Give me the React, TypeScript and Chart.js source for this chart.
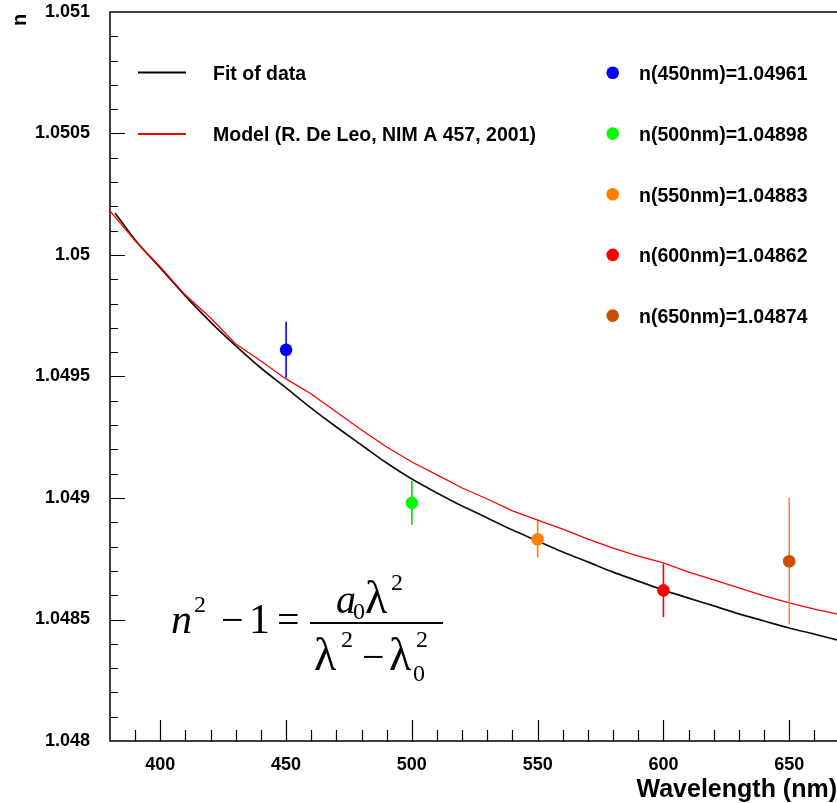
import { useEffect, useRef } from "react";
import { Chart, registerables } from "chart.js";

Chart.register(...registerables);

// ---- data ----
const fitWavelength = [382, 390, 400, 410, 420, 430, 440, 450, 460, 470, 480, 490, 500, 510, 520, 530, 540, 550, 560, 570, 580, 590, 600, 610, 620, 630, 640, 650, 660, 669];
const fitIndex = [1.050173, 1.050062, 1.049947, 1.049831, 1.049724, 1.049626, 1.049535, 1.049453, 1.04937, 1.049292, 1.049218, 1.049144, 1.049078, 1.049021, 1.048967, 1.048918, 1.048868, 1.048823, 1.048778, 1.048737, 1.048695, 1.048658, 1.048621, 1.048588, 1.048556, 1.048523, 1.048494, 1.048465, 1.04844, 1.048416];

const modelWavelength = [380, 390, 400, 410, 420, 430, 440, 450, 460, 470, 480, 490, 500, 510, 520, 530, 540, 550, 560, 570, 580, 590, 600, 610, 620, 630, 640, 650, 660, 669];
const modelIndex = [1.050181, 1.050058, 1.049951, 1.049835, 1.049741, 1.049634, 1.049564, 1.04949, 1.049428, 1.049354, 1.04928, 1.04921, 1.049148, 1.049095, 1.049041, 1.048996, 1.048947, 1.048909, 1.048872, 1.048831, 1.048794, 1.048761, 1.048733, 1.048695, 1.048663, 1.04863, 1.048597, 1.048568, 1.048543, 1.048523];

const measWavelength = [450, 500, 550, 600, 650];
const measIndex = [1.04961, 1.04898, 1.04883, 1.04862, 1.04874];
const measError = [0.000115, 0.00009, 0.000075, 0.00011, 0.00026];
const measLabels = ["n(450nm)=1.04961", "n(500nm)=1.04898", "n(550nm)=1.04883", "n(600nm)=1.04862", "n(650nm)=1.04874"];

const curveLabels = ["Fit of data", "Model (R. De Leo, NIM A 457, 2001)"];

const xTickValues = [400, 450, 500, 550, 600, 650];
const yTickValues = [1.048, 1.0485, 1.049, 1.0495, 1.05, 1.0505, 1.051];
const xAxisTitle = "Wavelength (nm)";
const yAxisTitle = "n";

// ---- styles ----
const markerColors = ["#0000ff", "#00ff00", "#ff8000", "#ff0000", "#c85000"];
const errorColors = ["#0000ff", "#00e000", "#ff8000", "#ff0000", "#e0905c"];
const SANS = "'Liberation Sans', Arial, Helvetica, sans-serif";
const SERIF = "'Liberation Serif', 'Times New Roman', serif";

const overlayPlugin = {
  id: "overlay",
  beforeDatasetsDraw(chart: any) {
    const { ctx, chartArea: a, scales } = chart;
    const x = scales.x;
    const y = scales.y;
    ctx.save();
    ctx.strokeStyle = "#000";
    ctx.lineWidth = 1.5;
    // frame
    ctx.beginPath();
    ctx.moveTo(a.right + 2, a.top);
    ctx.lineTo(a.left, a.top);
    ctx.lineTo(a.left, a.bottom);
    ctx.lineTo(a.right + 2, a.bottom);
    ctx.stroke();
    // x ticks
    ctx.lineWidth = 1.2;
    ctx.beginPath();
    for (let v = 390; v < 670; v += 10) {
      const px = Math.round(x.getPixelForValue(v)) + 0.5;
      const len = xTickValues.includes(v) ? 21 : 11;
      ctx.moveTo(px, a.bottom);
      ctx.lineTo(px, a.bottom - len);
    }
    // y ticks
    for (let i = 1; i < 30; i++) {
      const v = 1.048 + i * 0.0001;
      const py = Math.round(y.getPixelForValue(v)) + 0.5;
      const len = i % 5 === 0 ? 15 : 8;
      ctx.moveTo(a.left, py);
      ctx.lineTo(a.left + len, py);
    }
    ctx.stroke();
    ctx.restore();
  },
  beforeDatasetDraw(chart: any, args: any) {
    if (args.index !== 0) return;
    const { ctx, scales } = chart;
    const x = scales.x;
    const y = scales.y;
    ctx.save();
    ctx.lineWidth = 1.6;
    measWavelength.forEach((w, i) => {
      const px = x.getPixelForValue(w);
      ctx.strokeStyle = errorColors[i];
      ctx.beginPath();
      ctx.moveTo(px, y.getPixelForValue(measIndex[i] - measError[i]));
      ctx.lineTo(px, y.getPixelForValue(measIndex[i] + measError[i]));
      ctx.stroke();
    });
    ctx.restore();
  },
  afterDraw(chart: any) {
    const { ctx } = chart;
    ctx.save();
    ctx.fillStyle = "#000";
    // axis titles
    ctx.font = `bold 20px ${SANS}`;
    ctx.save();
    ctx.translate(26, 20);
    ctx.rotate(-Math.PI / 2);
    ctx.textAlign = "center";
    ctx.textBaseline = "alphabetic";
    ctx.fillText(yAxisTitle, 0, 0);
    ctx.restore();
    ctx.font = `bold 25px ${SANS}`;
    ctx.textAlign = "right";
    ctx.textBaseline = "alphabetic";
    ctx.fillText(xAxisTitle, 837, 797);

    // left legend (curves)
    const curveColors = ["#000000", "#ff0000"];
    const leftRows = [72.5, 134];
    ctx.textAlign = "left";
    ctx.font = `bold 19.5px ${SANS}`;
    curveLabels.forEach((t, i) => {
      ctx.strokeStyle = curveColors[i];
      ctx.lineWidth = 2;
      ctx.beginPath();
      ctx.moveTo(138, leftRows[i]);
      ctx.lineTo(186, leftRows[i]);
      ctx.stroke();
      ctx.fillStyle = "#000";
      ctx.fillText(t, 213, leftRows[i] + 7);
    });

    // right legend (points)
    measLabels.forEach((t, i) => {
      const ry = 72.8 + i * 60.7;
      ctx.fillStyle = markerColors[i];
      ctx.beginPath();
      ctx.arc(612.7, ry, 6.3, 0, Math.PI * 2);
      ctx.fill();
      ctx.fillStyle = "#000";
      ctx.fillText(t, 639, ry + 7.3);
    });

    // formula  n^2 - 1 = a0 λ^2 / (λ^2 - λ0^2)
    const run = (t: string, px: number, py: number, size: number, italic = false) => {
      ctx.font = `${italic ? "italic " : ""}${size}px ${SERIF}`;
      ctx.fillText(t, px, py);
    };
    ctx.fillStyle = "#000";
    ctx.textAlign = "left";
    run("n", 171, 633, 42, true);
    run("2", 194, 612, 24);
    run("\u2212", 221, 633, 40);
    run("1", 249, 633, 42);
    run("=", 277, 633, 40);
    ctx.strokeStyle = "#000";
    ctx.lineWidth = 2;
    ctx.beginPath();
    ctx.moveTo(310, 623);
    ctx.lineTo(443, 623);
    ctx.stroke();
    run("a", 336, 613, 40, true);
    run("0", 353, 619, 24);
    run("\u03bb", 365, 613, 46);
    run("2", 391, 590, 24);
    run("\u03bb", 314, 670, 46);
    run("2", 341, 647, 24);
    run("\u2212", 362, 670, 40);
    run("\u03bb", 389, 670, 46);
    run("2", 416, 647, 24);
    run("0", 413, 681, 24);
    ctx.restore();
  },
};

export default function App() {
  const ref = useRef<HTMLCanvasElement | null>(null);

  useEffect(() => {
    const canvas = ref.current;
    if (!canvas) return;
    const chart = new Chart(canvas, {
      type: "line",
      data: {
        datasets: [
          {
            type: "scatter",
            label: "Measurements",
            data: measWavelength.map((w, i) => ({ x: w, y: measIndex[i] })),
            pointRadius: 6.3,
            pointBorderWidth: 0,
            pointBackgroundColor: markerColors,
            pointBorderColor: markerColors,
            showLine: false,
            order: 0,
          },
          {
            type: "line",
            label: curveLabels[1],
            data: modelWavelength.map((w, i) => ({ x: w, y: modelIndex[i] })),
            borderColor: "#ff0000",
            borderWidth: 1.3,
            pointRadius: 0,
            tension: 0,
            fill: false,
            order: 1,
          },
          {
            type: "line",
            label: curveLabels[0],
            data: fitWavelength.map((w, i) => ({ x: w, y: fitIndex[i] })),
            borderColor: "#111111",
            borderWidth: 1.7,
            pointRadius: 0,
            cubicInterpolationMode: "monotone",
            fill: false,
            order: 2,
          },
        ],
      },
      options: {
        responsive: false,
        animation: false,
        devicePixelRatio: 1,
        layout: { autoPadding: false, padding: { top: 12, right: 0, left: 0, bottom: 0 } },
        plugins: { legend: { display: false }, tooltip: { enabled: false } },
        scales: {
          x: {
            type: "linear",
            min: 380,
            max: 669,
            afterBuildTicks: (s: any) => {
              s.ticks = xTickValues.map((v) => ({ value: v }));
            },
            afterFit: (s: any) => {
              s.height = 62;
              s.paddingLeft = 0;
              s.paddingRight = 0;
              s.paddingTop = 0;
              s.paddingBottom = 0;
            },
            grid: { display: false, drawTicks: false },
            border: { display: false },
            ticks: {
              autoSkip: false,
              maxRotation: 0,
              padding: 13,
              color: "#000",
              font: { family: SANS, size: 18, weight: "bold" },
              callback: (v: any) => String(v),
            },
          },
          y: {
            type: "linear",
            min: 1.048,
            max: 1.051,
            afterBuildTicks: (s: any) => {
              s.ticks = yTickValues.map((v) => ({ value: v }));
            },
            afterFit: (s: any) => {
              s.width = 110;
              s.paddingLeft = 0;
              s.paddingRight = 0;
              s.paddingTop = 0;
              s.paddingBottom = 0;
            },
            grid: { display: false, drawTicks: false },
            border: { display: false },
            ticks: {
              autoSkip: false,
              padding: 20,
              color: "#000",
              font: { family: SANS, size: 18, weight: "bold" },
              callback: (v: any) => String(parseFloat(Number(v).toFixed(5))),
            },
          },
        },
      },
      plugins: [overlayPlugin],
    } as any);
    return () => chart.destroy();
  }, []);

  return (
    <div style={{ position: "absolute", left: 0, top: 0, width: 837, height: 803, background: "#fff" }}>
      <canvas ref={ref} width={837} height={803} style={{ display: "block", width: 837, height: 803 }} />
    </div>
  );
}
